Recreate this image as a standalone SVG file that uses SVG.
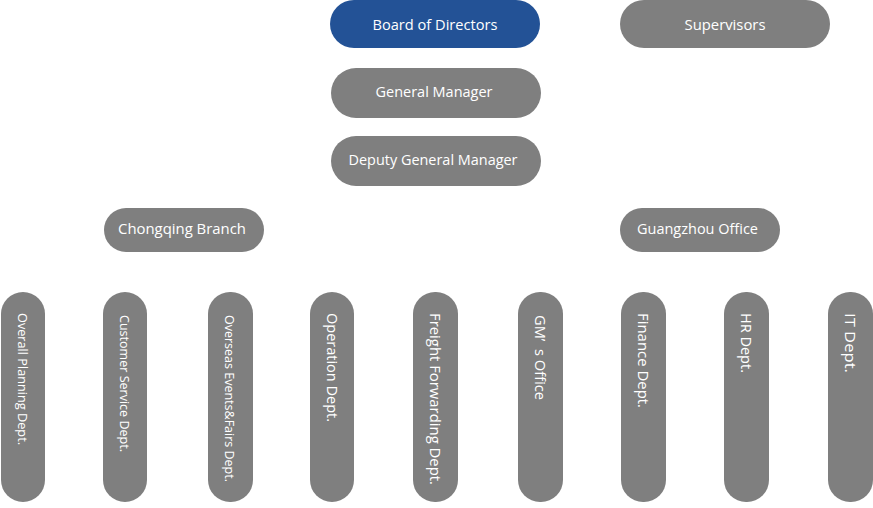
<svg xmlns="http://www.w3.org/2000/svg" width="873" height="508" viewBox="0 0 873 508">
<style>
.n{fill:#7f7f7f}
.b{fill:#235296}
text{font-family:"Open Sans","Liberation Sans",Arial,sans-serif;fill:#ffffff}
.h{font-size:14.5px;text-anchor:middle}
.v{font-size:13.5px}
.v2{font-size:14.5px}
</style>
<rect width="873" height="508" fill="#ffffff"/>
<g id="connectors"></g>
<g id="board"><rect class="b" x="330" y="0" width="210" height="48" rx="24"/><text class="h" x="435" y="30" textLength="125" lengthAdjust="spacingAndGlyphs">Board of Directors</text></g>
<g id="supervisors"><rect class="n" x="620" y="0" width="210" height="48" rx="24"/><text class="h" x="725" y="30" textLength="81" lengthAdjust="spacingAndGlyphs">Supervisors</text></g>
<g id="gm"><rect class="n" x="331" y="68" width="210" height="50" rx="25"/><text class="h" x="434" y="97" textLength="117" lengthAdjust="spacingAndGlyphs">General Manager</text></g>
<g id="dgm"><rect class="n" x="331" y="136" width="210" height="50" rx="25"/><text class="h" x="433" y="165" textLength="169" lengthAdjust="spacingAndGlyphs">Deputy General Manager</text></g>
<g id="chongqing"><rect class="n" x="104" y="208" width="160" height="44" rx="22"/><text class="h" x="182" y="234" textLength="128" lengthAdjust="spacingAndGlyphs">Chongqing Branch</text></g>
<g id="guangzhou"><rect class="n" x="620" y="208" width="160" height="44" rx="22"/><text class="h" x="697.5" y="234" textLength="121" lengthAdjust="spacingAndGlyphs">Guangzhou Office</text></g>
<g id="overall"><rect class="n" x="1" y="292" width="44" height="210" rx="22"/><text class="v" transform="translate(18,313) rotate(90)" textLength="132" lengthAdjust="spacingAndGlyphs">Overall Planning Dept.</text></g>
<g id="customer"><rect class="n" x="103" y="292" width="44" height="210" rx="22"/><text class="v" transform="translate(120,315) rotate(90)" textLength="137" lengthAdjust="spacingAndGlyphs">Customer Service Dept.</text></g>
<g id="overseas"><rect class="n" x="208" y="292" width="45" height="210" rx="22"/><text class="v" transform="translate(225,315) rotate(90)" textLength="167" lengthAdjust="spacingAndGlyphs">Overseas Events&amp;Fairs Dept.</text></g>
<g id="operation"><rect class="n" x="310" y="292" width="44" height="210" rx="22"/><text class="v2" transform="translate(327,313) rotate(90)" textLength="109" lengthAdjust="spacingAndGlyphs">Operation Dept.</text></g>
<g id="freight"><rect class="n" x="413" y="292" width="45" height="210" rx="22"/><text class="v2" transform="translate(430,313) rotate(90)" textLength="172" lengthAdjust="spacingAndGlyphs">Freight Forwarding Dept.</text></g>
<g id="gmoffice"><rect class="n" x="518" y="292" width="45" height="210" rx="22"/><text class="v2" transform="translate(535,315) rotate(90)" textLength="85" lengthAdjust="spacingAndGlyphs">GM’&#160;&#160;s Office</text></g>
<g id="finance"><rect class="n" x="621" y="292" width="45" height="210" rx="22"/><text class="v2" transform="translate(638,313) rotate(90)" textLength="95" lengthAdjust="spacingAndGlyphs">Finance Dept.</text></g>
<g id="hr"><rect class="n" x="724" y="292" width="45" height="210" rx="22"/><text class="v2" transform="translate(741,313) rotate(90)" textLength="60" lengthAdjust="spacingAndGlyphs">HR Dept.</text></g>
<g id="it"><rect class="n" x="828" y="292" width="45" height="210" rx="22"/><text class="v2" transform="translate(845,313) rotate(90)" textLength="60" lengthAdjust="spacingAndGlyphs">IT Dept.</text></g>
</svg>
